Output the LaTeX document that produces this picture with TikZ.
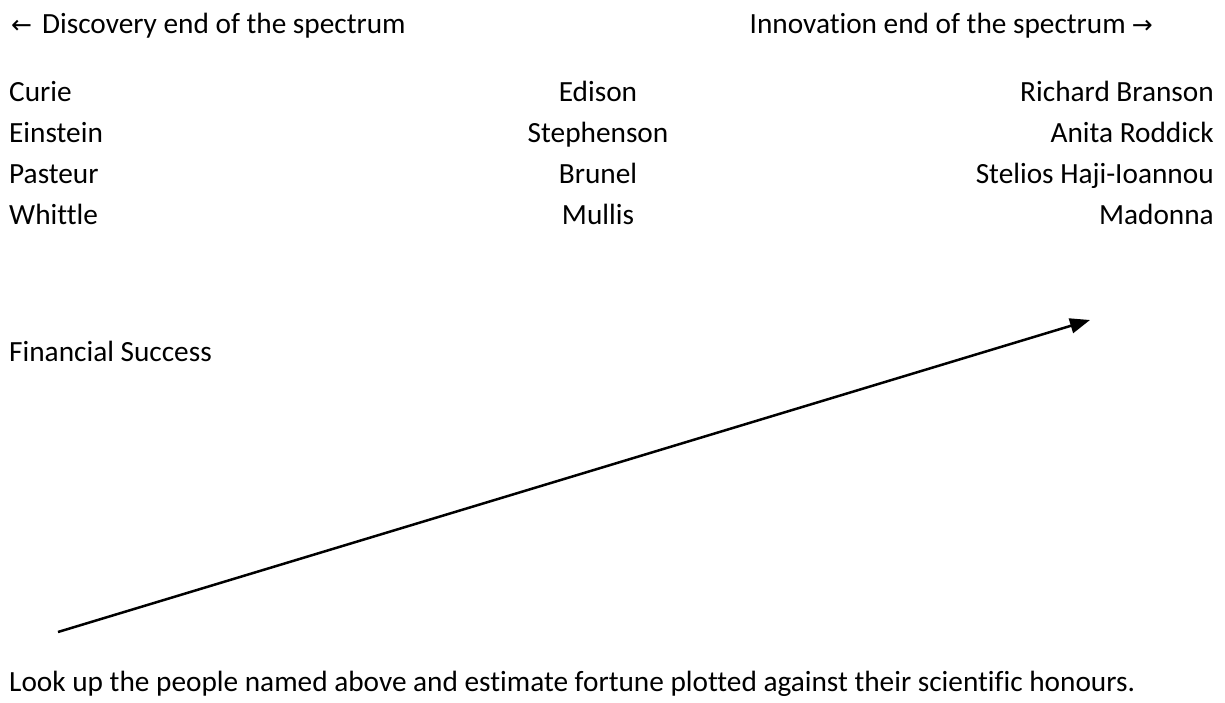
\documentclass[tikz,border=0pt]{standalone}
\usepackage{fontspec}
\setmainfont[Ligatures=NoCommon]{Carlito}
\newfontfamily\arrowfont{DejaVu Sans}
\newcommand\larr{{\arrowfont\fontsize{25}{30}\selectfont ←}}
\newcommand\rarr{{\arrowfont\fontsize{25}{30}\selectfont →}}
\usetikzlibrary{arrows.meta}

\begin{document}
\begin{tikzpicture}[
  x=1pt, y=-1pt,
  >={Triangle[length=20pt,width=15pt]},
  every node/.style={inner sep=0pt,font=\fontsize{29.3}{35}\selectfont},
  lft/.style={anchor=base west},
  mid/.style={anchor=base},
  rgt/.style={anchor=base east},
  trend/.style={->,line width=2.5pt}
]
\useasboundingbox (0,0) rectangle (1225,703);
% header
\node[lft] (disc) at (11,34) {\larr\hspace{10pt}Discovery end of the spectrum};
\node[rgt] (innov) at (1153,34) {Innovation end of the spectrum\hspace{6pt}\rarr};
% three columns of names
\node[lft] (curie) at (9,102) {Curie};
\node[lft] (einstein) at (9,143) {Einstein};
\node[lft] (pasteur) at (9,184) {Pasteur};
\node[lft] (whittle) at (9,225) {Whittle};
\node[mid] (edison) at (598,102) {Edison};
\node[mid] (stephenson) at (598,143) {Stephenson};
\node[mid] (brunel) at (598,184) {Brunel};
\node[mid] (mullis) at (598,225) {Mullis};
\node[rgt] (branson) at (1214,102) {Richard Branson};
\node[rgt] (roddick) at (1214,143) {Anita Roddick};
\node[rgt] (stelios) at (1214,184) {Stelios Haji-Ioannou};
\node[rgt] (madonna) at (1214,225) {Madonna};
% axis
\node[lft] (fin) at (9,361) {Financial Success};
\coordinate (low) at (58,632);
\coordinate (high) at (1090,320);
\draw[trend] (low) -- (high);
\node[lft] (task) at (9,691) {Look up the people named above and estimate fortune plotted against their scientific honours.};
\end{tikzpicture}
\end{document}
